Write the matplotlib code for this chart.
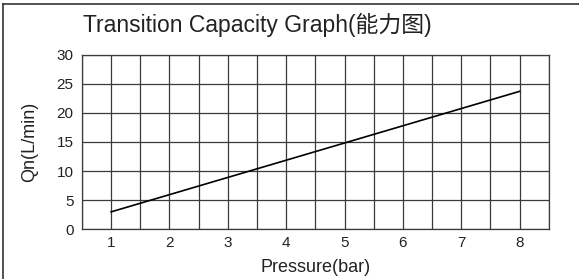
import matplotlib
matplotlib.use("Agg")
import matplotlib.pyplot as plt
from matplotlib.lines import Line2D
import numpy as np

plt.rcParams['font.family'] = ['Liberation Sans', 'Noto Sans CJK SC', 'DejaVu Sans']

# --- data ---
pressure = [1, 8]          # bar
flow = [3.0, 23.7]         # L/min
x_ticks = [1, 2, 3, 4, 5, 6, 7, 8]
y_ticks = [0, 5, 10, 15, 20, 25, 30]

fig = plt.figure(figsize=(5.79, 2.79), dpi=100)
ax = fig.add_axes([0.1416, 0.1781, 0.8061, 0.6259])

grid_color = '#3a3a3a'
text_color = '#222222'
ax.set_xlim(0.5, 8.5)
ax.set_ylim(0, 30)
ax.set_xticks(x_ticks)
ax.set_yticks(y_ticks)
ax.set_xticks(np.arange(0.5, 8.51, 0.5), minor=True)
ax.grid(True, which='both', axis='x', color=grid_color, linewidth=0.9)
ax.grid(True, which='major', axis='y', color=grid_color, linewidth=0.9)
ax.tick_params(which='both', length=0, labelsize=11, colors=text_color)
ax.tick_params(axis='x', pad=5)
ax.tick_params(axis='y', pad=6)
for s in ax.spines.values():
    s.set_color(grid_color)
    s.set_linewidth(0.9)

ax.plot(pressure, flow, color='black', linewidth=1.2)

ax.set_xlabel('Pressure(bar)', fontsize=13, color=text_color, labelpad=6)
ax.set_ylabel('Qn(L/min)', fontsize=13, color=text_color, labelpad=13)

fig.text(83 / 579, 1 - 32 / 279, 'Transition Capacity Graph(能力图)',
         fontsize=16.5, color=text_color, ha='left', va='baseline')

# outer frame (top and left visible)
fig.add_artist(Line2D([3 / 579, 1], [1 - 4 / 279, 1 - 4 / 279],
                      transform=fig.transFigure, color='#333333', linewidth=1.2))
fig.add_artist(Line2D([3 / 579, 3 / 579], [0, 1 - 4 / 279],
                      transform=fig.transFigure, color='#333333', linewidth=1.2))

fig.savefig('out.png', dpi=100)
